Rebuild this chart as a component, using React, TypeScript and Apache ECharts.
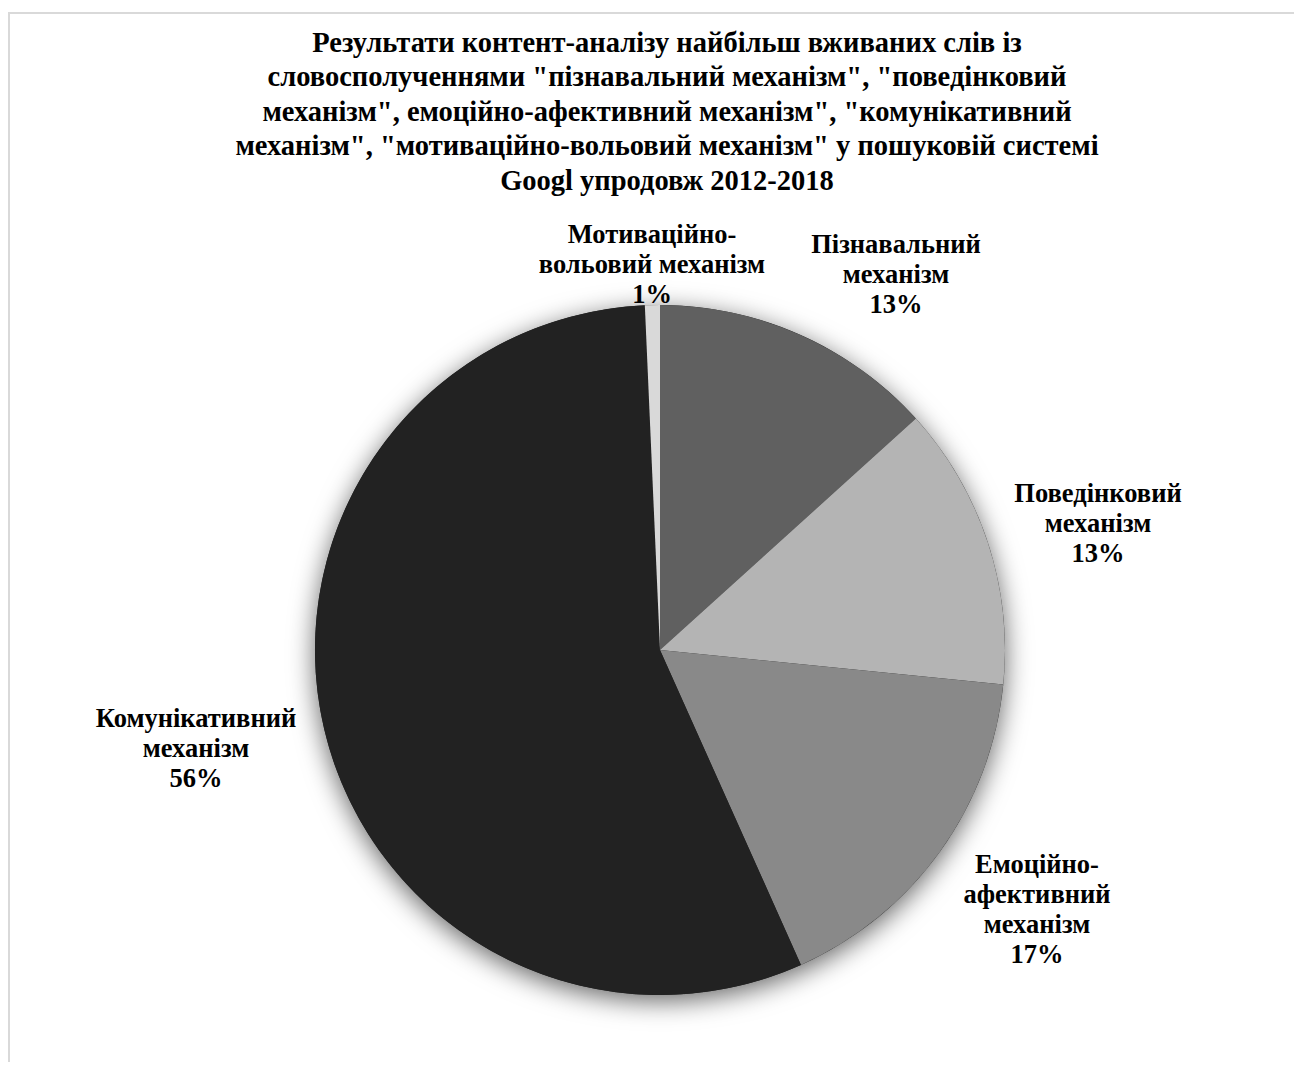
import React, { useEffect, useRef } from "react";
import * as echarts from "echarts";

const TITLE_LINES = [
  "Результати контент-аналізу найбільш вживаних слів із",
  "словосполученнями \"пізнавальний механізм\", \"поведінковий",
  "механізм\", емоційно-афективний механізм\", \"комунікативний",
  "механізм\", \"мотиваційно-вольовий механізм\" у пошуковій системі",
  "Googl упродовж 2012-2018",
];

const CATEGORIES = [
  "Пізнавальний\nмеханізм",
  "Поведінковий\nмеханізм",
  "Емоційно-\nафективний\nмеханізм",
  "Комунікативний\nмеханізм",
  "Мотиваційно-\nвольовий механізм",
];

const VALUES = [13.3, 13.3, 16.7, 56.0, 0.7];

const COLORS = ["#606060", "#b4b4b4", "#898989", "#222222", "#d9d9d9"];

// label anchor positions (layout only)
const LABEL_POS: [number, number][] = [
  [888, 266],
  [1090, 515],
  [1029, 901],
  [188, 740],
  [644, 256],
];

const FONT = "'Liberation Serif', 'Times New Roman', serif";

export default function App() {
  const ref = useRef<HTMLDivElement>(null);
  useEffect(() => {
    if (!ref.current) return;
    const chart = echarts.init(ref.current, null, { renderer: "svg" });
    const total = VALUES.reduce((a, b) => a + b, 0);
    chart.setOption({
      animation: false,
      backgroundColor: "#ffffff",
      title: {
        text: TITLE_LINES.join("\n"),
        left: 654,
        top: 12,
        textAlign: "center",
        textStyle: {
          fontFamily: FONT,
          fontWeight: "bold",
          fontSize: 28.5,
          lineHeight: 34.5,
          color: "#000000",
        },
      },
      graphic: [
        {
          type: "rect",
          shape: { x: 1, y: 5, width: 1400, height: 1200 },
          style: { fill: "none", stroke: "#d9d9d9", lineWidth: 2 },
          silent: true,
          z: -10,
        },
      ],
      series: [
        {
          type: "pie",
          silent: true,
          center: [652, 642],
          radius: 345,
          z: 1,
          label: { show: false },
          labelLine: { show: false },
          itemStyle: {
            color: "#222222",
            shadowBlur: 26,
            shadowOffsetY: 6,
            shadowColor: "rgba(0,0,0,0.6)",
          },
          data: [{ value: total, name: "" }],
        },
        {
          type: "pie",
          center: [652, 642],
          radius: 345,
          startAngle: 90,
          clockwise: true,
          z: 2,
          itemStyle: { borderWidth: 0 },
          label: {
            show: true,
            position: "outside",
            fontFamily: FONT,
            fontWeight: "bold",
            fontSize: 26.5,
            lineHeight: 30,
            color: "#000000",
            align: "center",
            formatter: (p: any) => `${p.name}\n${Math.round(p.percent)}%`,
          },
          labelLine: { show: false },
          labelLayout: (params: any) => {
            const pos = LABEL_POS[params.dataIndex];
            return {
              x: pos[0],
              y: pos[1],
              align: "center",
              verticalAlign: "middle",
            };
          },
          data: CATEGORIES.map((name, i) => ({
            name,
            value: VALUES[i],
            itemStyle: { color: COLORS[i] },
          })),
        },
      ],
    });
    return () => chart.dispose();
  }, []);
  return <div ref={ref} style={{ width: 1286, height: 1054 }} />;
}
